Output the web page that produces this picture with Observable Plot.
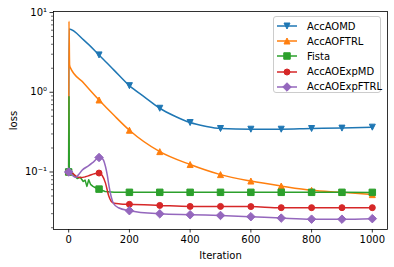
<!DOCTYPE html>
<html>
<head>
<meta charset="utf-8">
<script src="https://cdn.jsdelivr.net/npm/d3@7"></script>
<script src="https://cdn.jsdelivr.net/npm/@observablehq/plot@0.6"></script>
<style>
  html, body { margin: 0; padding: 0; background: white; }
  #wrap { position: relative; width: 394px; height: 267px; font-family: "DejaVu Sans", sans-serif; }
  #legend { position: absolute; left: 273px; top: 16px; width: 108px; height: 77px;
    border: 1px solid #cccccc; border-radius: 3px; background: rgba(255,255,255,0.8); box-sizing: border-box; }
  #legend .row { position: absolute; left: 0; height: 14px; display: flex; align-items: center; font-size: 10px; color: #000; }
  #legend svg { display: block; margin-left: 2px; margin-right: 9px; }
</style>
</head>
<body>
<div id="wrap"><div id="legend"></div></div>
<script>
// ---- data ----
const seriesNames = ["AccAOMD", "AccAOFTRL", "Fista", "AccAOExpMD", "AccAOExpFTRL"];
const seriesColors = ["#1f77b4", "#ff7f0e", "#2ca02c", "#d62728", "#9467bd"];

const accAOMD = [[0,0.1],[1,6.2],[50,4.5],[100,2.94],[150,1.88],[200,1.21],[250,0.87],[300,0.63],[350,0.5],[400,0.417],[450,0.375],[500,0.351],[600,0.344],[700,0.344],[800,0.351],[900,0.355],[1000,0.365]];
const accAOFTRL = [[0,0.1],[1,7.8],[3,2.2],[5,2.05],[50,1.3],[100,0.80],[150,0.51],[200,0.334],[300,0.18],[400,0.124],[500,0.0927],[600,0.077],[700,0.0667],[800,0.0589],[900,0.0556],[1000,0.052]];
const fista = [[0,0.1],[1,0.88],[2,0.11],[10,0.1],[18,0.09],[28,0.083],[38,0.086],[48,0.076],[54,0.079],[60,0.066],[66,0.08],[72,0.07],[80,0.066],[90,0.063],[100,0.061],[120,0.057],[150,0.0557],[200,0.0556],[300,0.0556],[400,0.0556],[500,0.0556],[600,0.0556],[700,0.0556],[800,0.0556],[900,0.0556],[1000,0.0555]];
const accAOExpMD = [[0,0.1],[5,0.104],[15,0.095],[28,0.087],[40,0.085],[55,0.087],[70,0.091],[85,0.095],[100,0.097],[110,0.091],[121,0.073],[132,0.05],[140,0.043],[150,0.0405],[170,0.0398],[200,0.0393],[300,0.0381],[400,0.037],[500,0.037],[600,0.0368],[700,0.0357],[800,0.0357],[900,0.0357],[1000,0.0357]];
const accAOExpFTRL = [[0,0.1],[8,0.094],[15,0.089],[24,0.086],[32,0.092],[44,0.105],[66,0.12],[82,0.134],[100,0.152],[108,0.15],[115,0.14],[121,0.118],[127,0.092],[133,0.066],[140,0.049],[148,0.04],[164,0.0356],[200,0.0327],[300,0.0299],[400,0.0291],[500,0.0285],[600,0.0275],[700,0.0264],[800,0.0256],[900,0.0256],[1000,0.026]];

const xTicks = [0, 200, 400, 600, 800, 1000];
const yTicks = [0.1, 1, 10];
const yTickLabels = ["10\u207B\u00B9", "10\u2070", "10\u00B9"];
const minorDecades = [0.01, 0.1, 1];
const minorMultipliers = [2, 3, 4, 5, 6, 7, 8, 9];

// ---- marker symbols (matplotlib-like) ----
const rOf = size => Math.sqrt(size / Math.PI);
const symTriDown = { draw(c, size) { const r = rOf(size); c.moveTo(0, r); c.lineTo(-r, -r); c.lineTo(r, -r); c.closePath(); } };
const symTriUp = { draw(c, size) { const r = rOf(size); c.moveTo(0, -r); c.lineTo(r, r); c.lineTo(-r, r); c.closePath(); } };
const symSquare = { draw(c, size) { const r = rOf(size) * 1.08; c.rect(-r, -r, 2 * r, 2 * r); } };
const symCircle = { draw(c, size) { const r = rOf(size); c.moveTo(r, 0); c.arc(0, 0, r, 0, 2 * Math.PI); } };
const symDiamond = { draw(c, size) { const r = rOf(size) * Math.SQRT2; c.moveTo(0, -r); c.lineTo(r, 0); c.lineTo(0, r); c.lineTo(-r, 0); c.closePath(); } };
const symbols = [symTriDown, symTriUp, symSquare, symCircle, symDiamond];

const allData = [accAOMD, accAOFTRL, fista, accAOExpMD, accAOExpFTRL];
const rows = allData.map((arr, i) => arr.map(([it, v]) => ({it, v, s: seriesNames[i]})));
const curves = ["monotone-x", "monotone-x", "linear", "monotone-x", "monotone-x"];

const minorTicks = minorDecades.flatMap(d => minorMultipliers.map(m => +(d * m).toPrecision(3)));

const marks = [];
rows.forEach((data, i) => {
  marks.push(Plot.line(data, {x: "it", y: "v", stroke: seriesColors[i], strokeWidth: 1.5, curve: curves[i]}));
  marks.push(Plot.dot(data.filter(d => d.it % 100 === 0), {x: "it", y: "v", symbol: symbols[i], r: 3, fill: seriesColors[i], stroke: seriesColors[i], strokeWidth: 1}));
});

const chart = Plot.plot({
  width: 394, height: 267,
  marginLeft: 53, marginRight: 7, marginTop: 11, marginBottom: 38,
  style: {fontFamily: "DejaVu Sans, sans-serif", fontSize: "10px", background: "white", color: "black"},
  x: {domain: [-50, 1050]},
  y: {type: "log", domain: [0.019, 10.3]},
  marks: [
    ...marks,
    Plot.frame({stroke: "black", strokeWidth: 0.8}),
    Plot.axisX({ticks: xTicks, tickSize: 3.5, tickPadding: 3, strokeWidth: 0.8, fontSize: 10,
      tickFormat: d => String(d),
      label: "Iteration", labelAnchor: "center", labelArrow: "none", labelOffset: 29}),
    Plot.axisY({ticks: yTicks, tickSize: 3.5, tickPadding: 3, strokeWidth: 0.8, fontSize: 10,
      tickFormat: d => yTickLabels[yTicks.indexOf(d)],
      label: "loss", labelAnchor: "center", labelArrow: "none", labelOffset: 44}),
    Plot.axisY({ticks: minorTicks, tickSize: 2, strokeWidth: 0.6, tickFormat: () => "", label: null})
  ]
});
document.getElementById("wrap").prepend(chart);

// ---- legend ----
const legend = document.getElementById("legend");
seriesNames.forEach((name, i) => {
  const row = document.createElement("div");
  row.className = "row";
  row.style.top = (2 + i * 15.2) + "px";
  const p = d3.path();
  symbols[i].draw(p, Math.PI * 9);
  row.innerHTML = `<svg width="22" height="12" viewBox="-11 -6 22 12">
    <line x1="-10" x2="10" y1="0" y2="0" stroke="${seriesColors[i]}" stroke-width="1.5"/>
    <path d="${p.toString()}" fill="${seriesColors[i]}" stroke="${seriesColors[i]}" stroke-width="1"/></svg><span>${name}</span>`;
  legend.appendChild(row);
});
</script>
</body>
</html>
